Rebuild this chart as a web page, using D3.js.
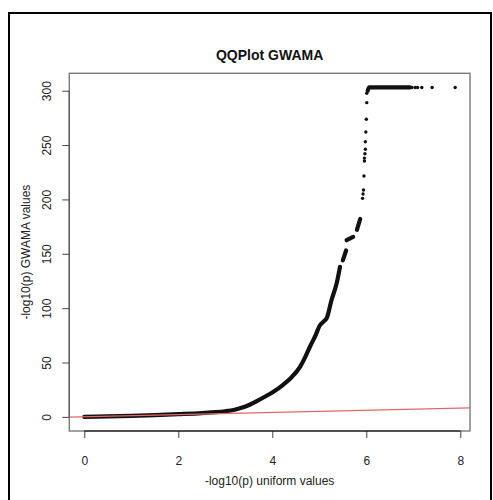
<!DOCTYPE html>
<html>
<head>
<meta charset="utf-8">
<script src="https://cdn.jsdelivr.net/npm/d3@7"></script>
<style>
  html, body { margin: 0; padding: 0; background: #fff; }
  svg { display: block; font-family: "Liberation Sans", Arial, Helvetica, sans-serif; }
</style>
</head>
<body>
<svg id="chart" width="493" height="500"></svg>
<script>
// Expected (uniform) -log10(p) along the dense run of points; null breaks the run
const bandX = [0.0, 0.5, 1.0, 1.5, 2.0, 2.5, 2.8, 3.0, 3.2, 3.38, 3.53, 3.67, 3.84, 4.0, 4.23, 4.4, 4.59, 4.7, 4.8, 4.92, 5.01, 5.1, 5.16, 5.26, 5.37, 5.44,
               null, 5.5, 5.57,
               null, 5.58, 5.72,
               null, 5.8, 5.87,
               null, 6.03, 6.06, 6.5, 6.93];
// Observed GWAMA -log10(p) for the same run
const bandY = [0.0, 0.4, 0.9, 1.6, 2.5, 3.5, 4.3, 5.2, 6.6, 8.8, 11.4, 14.5, 18.5, 22.5, 29.5, 36, 46, 55, 64.5, 75, 84, 88, 91, 107.5, 123, 138,
               null, 144, 153,
               null, 162.5, 165.5,
               null, 172, 182,
               null, 300, 303, 303, 303];
// Isolated points where the run thins out
const dotX = [5.92, 5.93, 5.94, 5.95, 5.96, 5.96, 5.97, 5.98, 5.98, 5.99, 6.0, 6.01, 6.01, 6.97, 7.04, 7.09, 7.18, 7.40, 7.89];
const dotY = [201, 205, 208.7, 221.6, 235.4, 238, 242, 246.1, 253.1, 262, 273.7, 289, 297.6, 303, 303, 303, 303, 303, 303];

const xTicks = [0, 2, 4, 6, 8];
const yTicks = [0, 50, 100, 150, 200, 250, 300];

const titleText = "QQPlot GWAMA";
const xLabel = "-log10(p) uniform values";
const yLabel = "-log10(p) GWAMA values";

const svg = d3.select("#chart");
const plot = { left: 69.3, right: 470, top: 73.3, bottom: 431 };

const x = d3.scaleLinear().domain([-0.319, 8.206]).range([plot.left, plot.right]);
const y = d3.scaleLinear().domain([-13, 316]).range([plot.bottom, plot.top]);

// outer device frame
svg.append("rect")
  .attr("x", 9).attr("y", 13).attr("width", 482).attr("height", 500)
  .attr("fill", "none").attr("stroke", "#000").attr("stroke-width", 2);

svg.append("defs").append("clipPath").attr("id", "clip")
  .append("rect")
  .attr("x", plot.left).attr("y", plot.top)
  .attr("width", plot.right - plot.left).attr("height", plot.bottom - plot.top);

const band = bandX.map((v, i) => ({ x: v, y: bandY[i] }));
const dots = dotX.map((v, i) => ({ x: v, y: dotY[i] }));

const g = svg.append("g").attr("clip-path", "url(#clip)");

const line = d3.line()
  .defined(d => d.x !== null && d.y !== null)
  .x(d => x(d.x)).y(d => y(d.y))
  .curve(d3.curveMonotoneX);

g.append("path")
  .datum(band)
  .attr("d", line)
  .attr("fill", "none")
  .attr("stroke", "#111")
  .attr("stroke-width", 4.2)
  .attr("stroke-linecap", "round")
  .attr("stroke-linejoin", "round");

g.selectAll("circle.pt")
  .data(dots)
  .join("circle")
  .attr("class", "pt")
  .attr("cx", d => x(d.x)).attr("cy", d => y(d.y))
  .attr("r", 1.7)
  .attr("fill", "#111");

// identity reference line y = x
const dom = x.domain();
g.append("line")
  .attr("x1", x(dom[0])).attr("y1", y(dom[0]))
  .attr("x2", x(dom[1])).attr("y2", y(dom[1]))
  .attr("stroke", "#e06868")
  .attr("stroke-width", 1.3);

// plot box
svg.append("rect")
  .attr("x", plot.left).attr("y", plot.top)
  .attr("width", plot.right - plot.left).attr("height", plot.bottom - plot.top)
  .attr("fill", "none").attr("stroke", "#7a7a7a").attr("stroke-width", 1.4);

// x axis
const xAxis = svg.append("g")
  .attr("transform", `translate(0,${plot.bottom})`)
  .call(d3.axisBottom(x).tickValues(xTicks).tickFormat(d3.format("d")).tickSize(7).tickPadding(18));
xAxis.select(".domain").remove();
xAxis.selectAll(".tick line").attr("stroke", "#444");
xAxis.selectAll(".tick text").attr("font-size", 12).attr("fill", "#222")
  .attr("font-family", "Liberation Sans, Arial, sans-serif");
xAxis.append("line")
  .attr("x1", x(xTicks[0])).attr("x2", x(xTicks[xTicks.length - 1]))
  .attr("y1", 0).attr("y2", 0).attr("stroke", "#000").attr("stroke-width", 1.2);

// y axis
const yAxis = svg.append("g")
  .attr("transform", `translate(${plot.left},0)`)
  .call(d3.axisLeft(y).tickValues(yTicks).tickFormat(d3.format("d")).tickSize(7));
yAxis.select(".domain").remove();
yAxis.selectAll(".tick line").attr("stroke", "#444");
yAxis.selectAll(".tick text")
  .attr("font-size", 12).attr("fill", "#222")
  .attr("font-family", "Liberation Sans, Arial, sans-serif")
  .attr("text-anchor", "middle")
  .attr("transform", "rotate(-90)")
  .attr("x", 0).attr("y", -18.3).attr("dy", 0);
yAxis.append("line")
  .attr("y1", y(yTicks[0])).attr("y2", y(yTicks[yTicks.length - 1]))
  .attr("x1", 0).attr("x2", 0).attr("stroke", "#555").attr("stroke-width", 1.2);

// title and axis labels
svg.append("text")
  .attr("x", (plot.left + plot.right) / 2).attr("y", 60)
  .attr("text-anchor", "middle")
  .attr("font-size", 14).attr("font-weight", "bold").attr("fill", "#111")
  .text(titleText);

svg.append("text")
  .attr("x", (plot.left + plot.right) / 2).attr("y", 485)
  .attr("text-anchor", "middle")
  .attr("font-size", 12).attr("fill", "#222")
  .text(xLabel);

svg.append("text")
  .attr("transform", `translate(30,${(plot.top + plot.bottom) / 2}) rotate(-90)`)
  .attr("text-anchor", "middle")
  .attr("font-size", 12).attr("fill", "#222")
  .text(yLabel);
</script>
</body>
</html>
